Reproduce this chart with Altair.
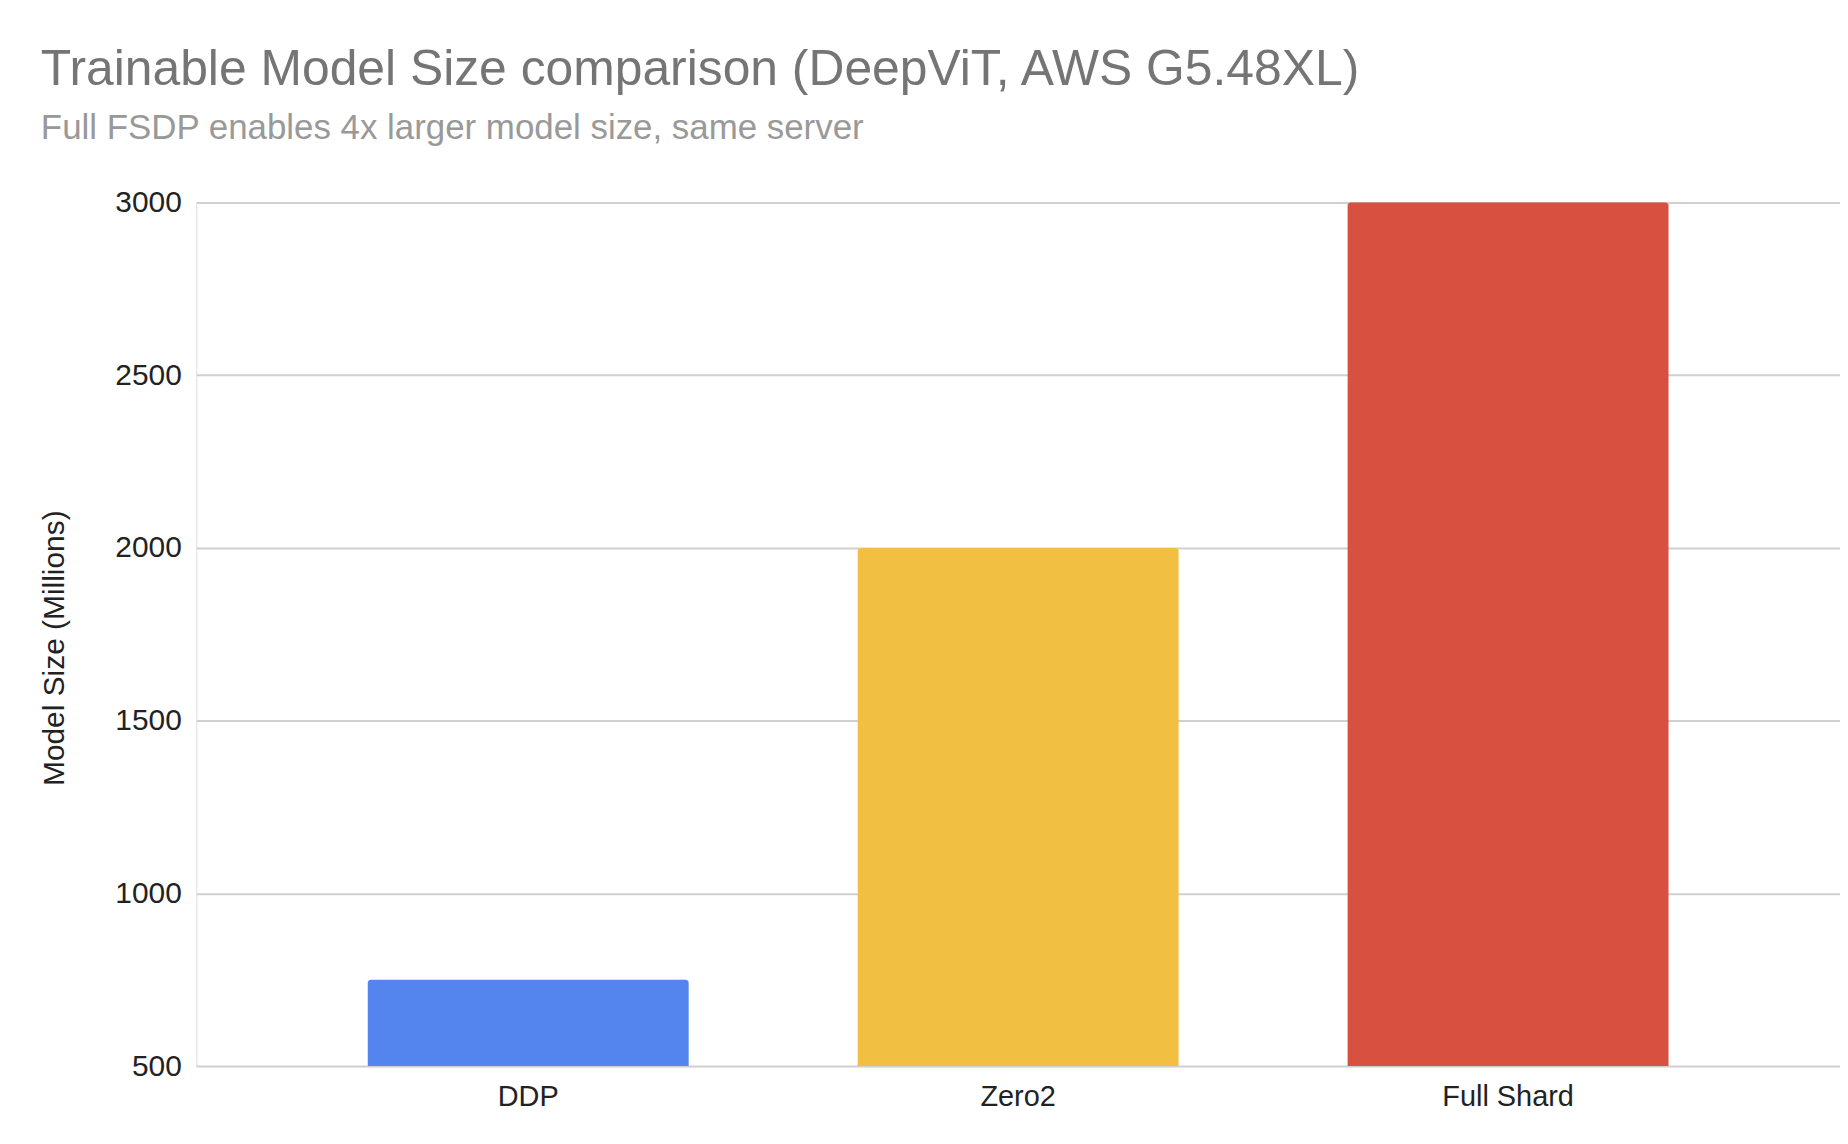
import altair as alt
import pandas as pd

categories = ["DDP", "Zero2", "Full Shard"]
model_size_millions = [750, 2000, 3000]
bar_colors = ["#5484ED", "#F1C042", "#D85140"]
y_ticks = [500, 1000, 1500, 2000, 2500, 3000]
y_base = 500

df = pd.DataFrame({"Strategy": categories, "Size": model_size_millions,
                   "Base": [y_base] * len(categories)})

FONT = "Liberation Sans"

chart = alt.Chart(df).mark_bar(
    cornerRadiusTopLeft=3, cornerRadiusTopRight=3
).encode(
    x=alt.X("Strategy:N", sort=categories,
            scale=alt.Scale(paddingInner=0.345, paddingOuter=0.35),
            axis=alt.Axis(title=None, labelAngle=0, labelFontSize=29,
                          labelColor="#222222", labelFont=FONT,
                          labelPadding=17, ticks=False, domain=False, grid=False)),
    y=alt.Y("Size:Q", scale=alt.Scale(domain=[500, 3000], nice=False, zero=False),
            axis=alt.Axis(title="Model Size (Millions)", values=y_ticks, format="d",
                          titleFontSize=30, titleFont=FONT, titleFontWeight="normal",
                          titleColor="#222222", titleX=-142, titleY=447,
                          titleBaseline="middle",
                          labelFontSize=30, labelFont=FONT, labelColor="#222222",
                          labelPadding=15, ticks=False, domain=False,
                          gridColor="#D0D0D0", gridWidth=2)),
    y2=alt.Y2("Base:Q"),
    color=alt.Color("Strategy:N", scale=alt.Scale(domain=categories, range=bar_colors),
                    legend=None),
).properties(
    width=1650,
    height=867,
    title=alt.TitleParams(
        text="Trainable Model Size comparison (DeepViT, AWS G5.48XL)",
        subtitle="Full FSDP enables 4x larger model size, same server",
        anchor="start", frame="group", dx=-156, offset=42,
        font=FONT, fontSize=50, fontWeight="normal", color="#757575",
        subtitleFont=FONT, subtitleFontSize=35, subtitleColor="#999999",
        subtitlePadding=16,
    ),
    padding={"left": 189, "top": 193, "right": 0, "bottom": 70},
    autosize=alt.AutoSizeParams(type="none"),
).configure_view(stroke=None).configure(background="white")

chart.save("out.html", embed_options={"renderer": "svg", "actions": False})
